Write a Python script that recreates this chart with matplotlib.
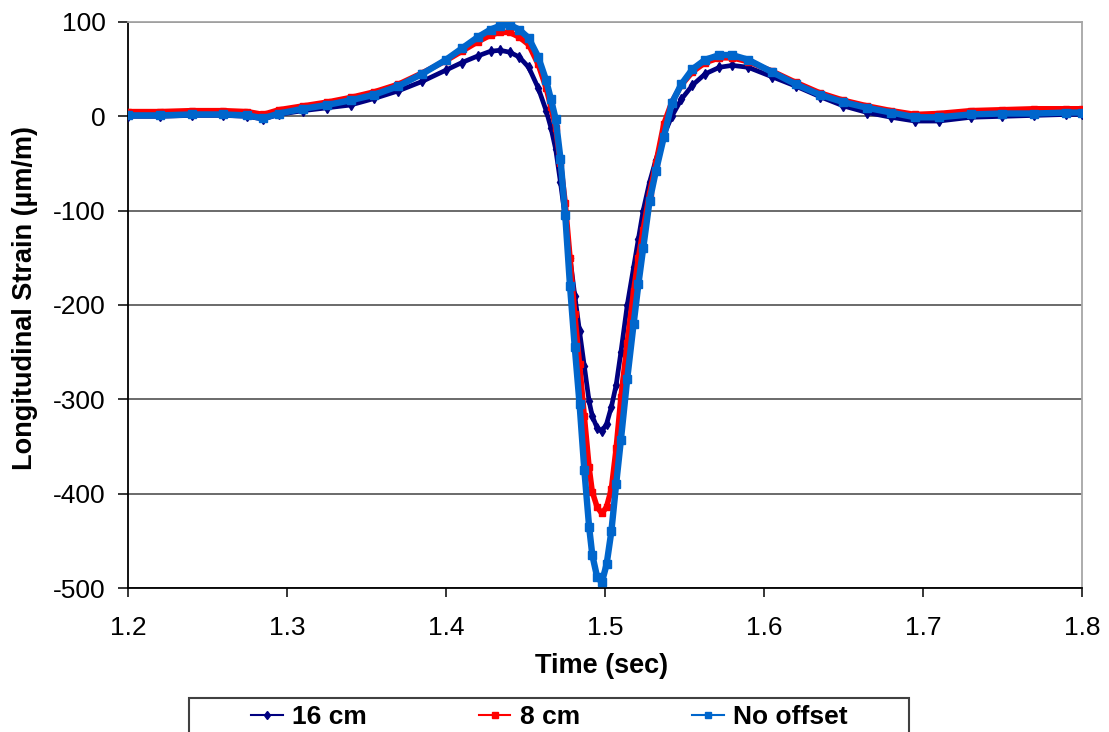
import matplotlib
matplotlib.use("Agg")
import matplotlib.pyplot as plt
from matplotlib.lines import Line2D
from matplotlib.patches import Rectangle

plt.rcParams["font.family"] = ["Liberation Sans", "DejaVu Sans"]
plt.rcParams["axes.unicode_minus"] = False

# time (sec)
time_s = [1.200, 1.220, 1.240, 1.260, 1.275, 1.285, 1.295, 1.310, 1.325, 1.340,
          1.355, 1.370, 1.385, 1.400, 1.410, 1.420, 1.428, 1.434, 1.440, 1.446,
          1.452, 1.458, 1.463, 1.466, 1.469, 1.472, 1.475, 1.478, 1.481, 1.484,
          1.487, 1.490, 1.492, 1.495, 1.498, 1.501, 1.504, 1.507, 1.510, 1.514,
          1.518, 1.521, 1.524, 1.528, 1.532, 1.537, 1.542, 1.548, 1.555, 1.563,
          1.572, 1.580, 1.590, 1.605, 1.620, 1.635, 1.650, 1.665, 1.680, 1.695,
          1.710, 1.730, 1.750, 1.770, 1.790, 1.800]

# longitudinal strain (um/m)
strain_16cm = [0, 0, 1, 1, 0, -3, 2, 6, 9, 12,
               19, 27, 37, 49, 57, 64, 69, 70, 68, 63,
               52, 30, 6, -12, -35, -70, -108, -150, -190, -228,
               -265, -302, -318, -330, -334, -326, -308, -285, -250, -200,
               -160, -130, -100, -70, -46, -20, 0, 18, 33, 45,
               52, 54, 52, 42, 32, 21, 11, 4, -1, -5,
               -5, -1, 0, 1, 2, 2]

strain_8cm = [5, 5, 6, 6, 5, 2, 7, 11, 15, 20,
              26, 34, 46, 59, 69, 79, 86, 89, 89, 84,
              76, 55, 30, 10, -12, -50, -92, -150, -210, -263,
              -318, -372, -398, -414, -421, -414, -395, -352, -298, -240,
              -185, -150, -120, -82, -50, -8, 15, 33, 47, 57,
              62, 62, 58, 48, 36, 25, 17, 11, 6, 2,
              3, 6, 7, 8, 8, 8]

strain_no_offset = [1, 1, 2, 2, 1, -2, 3, 8, 12, 17,
                    23, 32, 45, 60, 72, 84, 92, 96, 97, 92,
                    83, 63, 38, 18, -3, -45, -105, -180, -245, -305,
                    -375, -435, -465, -488, -494, -475, -440, -390, -343, -278,
                    -220, -178, -140, -90, -58, -22, 14, 34, 50, 60,
                    65, 65, 60, 47, 34, 23, 15, 9, 4, -1,
                    -1, 2, 3, 3, 4, 4]

series_labels = ["16 cm", "8 cm", "No offset"]
series_colors = ["#000080", "#ff0000", "#0066cc"]
series_markers = ["d", "s", "s"]

W, H = 1109, 732
fig = plt.figure(figsize=(W / 100, H / 100), dpi=100)
ax = fig.add_axes([128 / W, 1 - 588 / H, 954 / W, 566 / H])

series = [strain_16cm, strain_8cm, strain_no_offset]
widths = [3.4, 4.0, 4.6]
msizes = [5.0, 5.0, 5.5]
for vals, col, mk, lw, ms in zip(series, series_colors, series_markers, widths, msizes):
    ax.plot(time_s, vals, color=col, lw=lw, marker=mk, ms=ms, mec=col, mfc=col,
            solid_joinstyle="round", solid_capstyle="round", zorder=3)

ax.set_xlim(1.2, 1.8)
ax.set_ylim(-500, 100)
ax.set_xticks([1.2, 1.3, 1.4, 1.5, 1.6, 1.7, 1.8])
ax.set_xticklabels(["1.2", "1.3", "1.4", "1.5", "1.6", "1.7", "1.8"])
ax.set_yticks(range(-500, 101, 100))
ax.grid(axis="y", color="#5f5f5f", lw=1.3)
ax.set_axisbelow(True)

for side in ("top", "right"):
    ax.spines[side].set_color("#a6a6a6")
    ax.spines[side].set_linewidth(1.3)
for side in ("left", "bottom"):
    ax.spines[side].set_color("black")
    ax.spines[side].set_linewidth(1.3)

ax.tick_params(axis="y", direction="out", length=7, width=1.1, pad=9, labelsize=19)
ax.tick_params(axis="x", direction="out", length=6.5, width=1.1, pad=14, labelsize=19)

fig.text(602 / W, 1 - 666 / H, "Time (sec)", ha="center", va="center",
         fontsize=19.5, fontweight="bold")
fig.text(25 / W, 1 - 298 / H, "Longitudinal Strain (\u00b5m/m)", ha="center", va="center",
         rotation=90, fontsize=19.5, fontweight="bold")

# legend box, cut by the bottom edge like the original
fig.patches.append(Rectangle((189 / W, -0.05), (909 - 189) / W, 0.05 + 1 - 698 / H,
                             transform=fig.transFigure, fill=False,
                             edgecolor="#404040", lw=1.5))
handles = [Line2D([], [], color=c, lw=1.5, marker=m, ms=4.5, mec=c, mfc=c)
           for c, m in zip(series_colors, series_markers)]
fig.legend(handles, series_labels, ncol=3, frameon=False, loc="center left",
           bbox_to_anchor=(251 / W, 1 - 717 / H), borderpad=0, borderaxespad=0,
           handlelength=1.2, handletextpad=0.35, columnspacing=4.25,
           prop={"size": 19, "weight": "bold"})

fig.savefig("out.png", dpi=100)
